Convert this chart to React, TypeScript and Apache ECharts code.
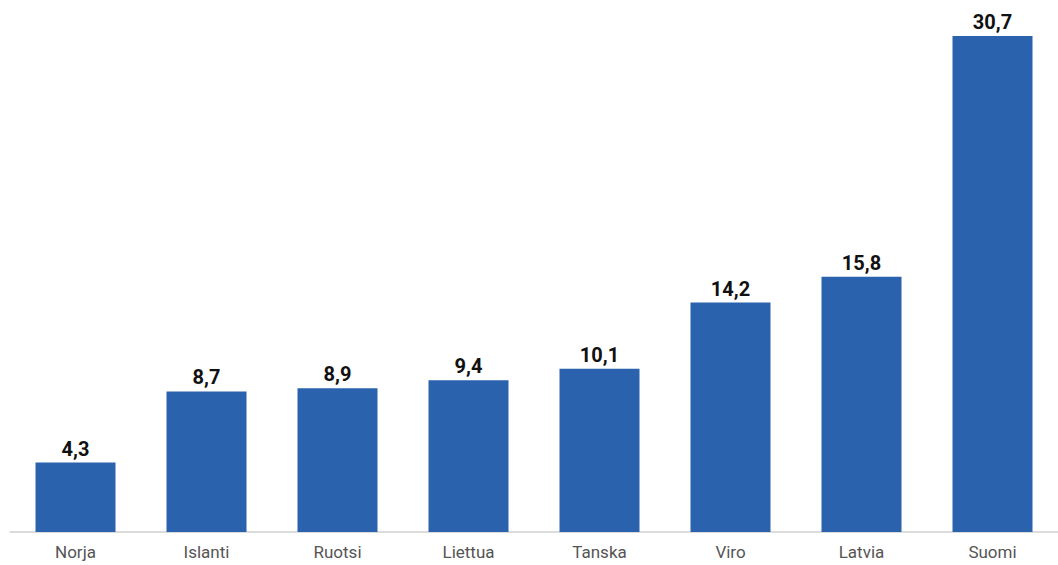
import React, { useEffect, useRef } from "react";
import * as echarts from "echarts";

const categories = ["Norja", "Islanti", "Ruotsi", "Liettua", "Tanska", "Viro", "Latvia", "Suomi"];
const values = [4.3, 8.7, 8.9, 9.4, 10.1, 14.2, 15.8, 30.7];

export default function App() {
  const ref = useRef<HTMLDivElement>(null);
  useEffect(() => {
    const chart = echarts.init(ref.current!, null, { renderer: "svg" });
    chart.setOption({
      animation: false,
      backgroundColor: "#ffffff",
      grid: { left: 10, right: 0, top: 36, bottom: 33, containLabel: false },
      xAxis: {
        type: "category",
        data: categories,
        axisLine: { show: true, lineStyle: { color: "#d0d0d0", width: 1.5 } },
        axisTick: { show: false },
        axisLabel: { color: "#555555", fontSize: 17, fontFamily: "Roboto", margin: 11 },
      },
      yAxis: {
        type: "value",
        min: 0,
        max: 30.7,
        show: false,
        splitLine: { show: false },
      },
      series: [
        {
          type: "bar",
          data: values,
          barWidth: 80,
          itemStyle: { color: "#2a62ad" },
          label: {
            show: true,
            position: "top",
            distance: 4,
            color: "#111111",
            fontSize: 20,
            fontWeight: "bold",
            fontFamily: "Roboto",
            formatter: (p: any) => String(p.value.toFixed(1)).replace(".", ","),
          },
        },
      ],
    });
    return () => chart.dispose();
  }, []);
  return <div ref={ref} style={{ position: "fixed", left: 0, top: 0, width: 1058, height: 565 }} />;
}
